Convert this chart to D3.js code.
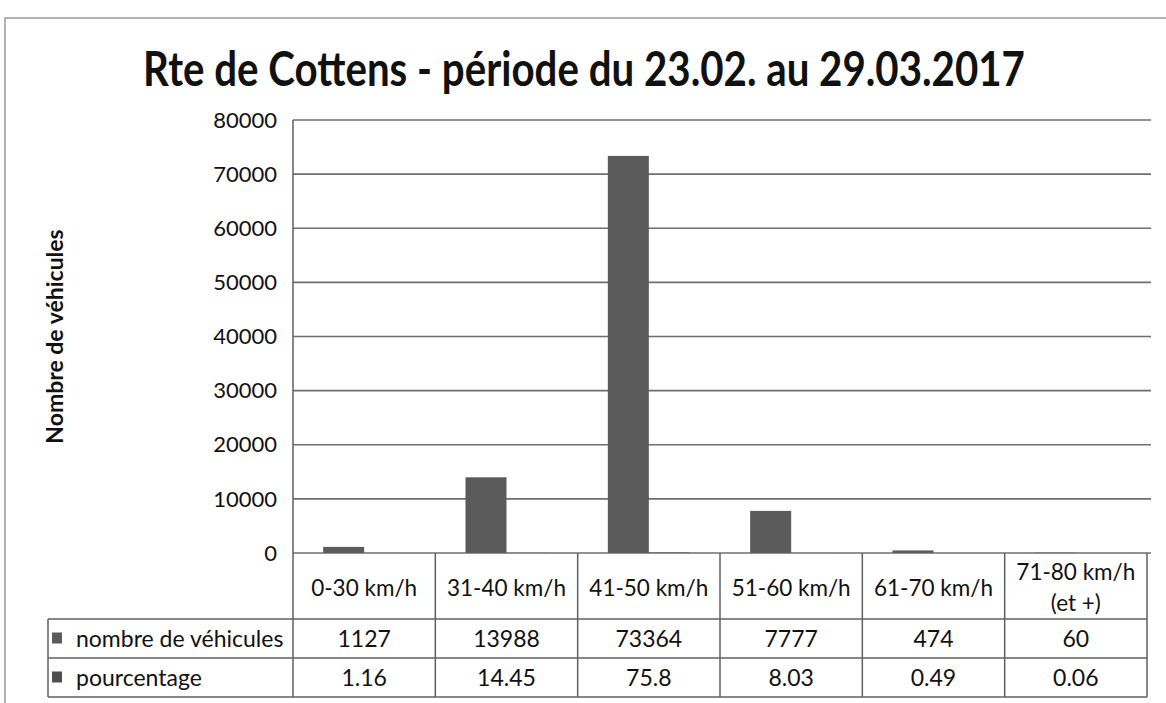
<!DOCTYPE html>
<html>
<head>
<meta charset="utf-8">
<script src="https://cdn.jsdelivr.net/npm/d3@7"></script>
<style>
  body { margin: 0; background: #fff; }
  text { font-family: Lato, "Open Sans", sans-serif; fill: #111; }
</style>
</head>
<body>
<script>
// données
const categories = ["0-30 km/h", "31-40 km/h", "41-50 km/h", "51-60 km/h", "61-70 km/h", "71-80 km/h\n(et +)"];
const vehicules = [1127, 13988, 73364, 7777, 474, 60];
const pourcentage = [1.16, 14.45, 75.8, 8.03, 0.49, 0.06];
const pctLabels = ["1.16", "14.45", "75.8", "8.03", "0.49", "0.06"];
const seriesNames = ["nombre de véhicules", "pourcentage"];
const yTicks = [0, 10000, 20000, 30000, 40000, 50000, 60000, 70000, 80000];
const title = "Rte de Cottens - période du 23.02. au 29.03.2017";
const yTitle = "Nombre de véhicules";

const width = 1166, height = 703;
const margin = {top: 120, right: 19, bottom: 150, left: 293};
const rows = {top: 619, mid: 658, bottom: 697, tableLeft: 48};

const svg = d3.select("body").append("svg")
    .attr("width", width)
    .attr("height", height);

svg.append("rect").attr("width", width).attr("height", height).attr("fill", "#fff");

// cadre extérieur
svg.append("path")
    .attr("d", `M5,${height} V18 H${width}`)
    .attr("fill", "none")
    .attr("stroke", "#9a9a9a")
    .attr("stroke-width", 1.5);

// titre : police étroite simulée par une mise à l'échelle horizontale
const titleText = svg.append("text")
    .attr("text-anchor", "middle")
    .attr("font-size", 47)
    .attr("font-weight", "bold")
    .text(title);
const tw = titleText.node().getComputedTextLength();
titleText.attr("transform", `translate(${width / 2 + 1},86) scale(${882 / tw},1)`);

const x = d3.scaleBand()
    .domain(d3.range(categories.length))
    .range([margin.left, width - margin.right]);

const xs = d3.scaleBand()
    .domain([0, 1])
    .range([0, x.bandwidth()])
    .paddingOuter(0.735);

const y = d3.scaleLinear()
    .domain([0, 80000])
    .range([553, margin.top]);

// grille
svg.append("g")
  .selectAll("line")
  .data(yTicks)
  .join("line")
    .attr("x1", margin.left)
    .attr("x2", 1151)
    .attr("y1", d => y(d))
    .attr("y2", d => y(d))
    .attr("stroke", "#6e6e6e")
    .attr("stroke-width", 1.6);

svg.append("g")
  .selectAll("text")
  .data(yTicks)
  .join("text")
    .attr("x", 277)
    .attr("y", d => y(d))
    .attr("dy", "0.35em")
    .attr("text-anchor", "end")
    .attr("font-size", 22)
    .text(d => d);

svg.append("text")
    .attr("transform", `translate(63,${(y(0) + y(80000)) / 2}) rotate(-90)`)
    .attr("text-anchor", "middle")
    .attr("font-size", 23)
    .attr("font-weight", "bold")
    .text(yTitle);

// barres
const series = [vehicules, pourcentage];
const colors = ["#5b5b5b", "#4f4f4f"];
series.forEach((vals, s) => {
  svg.append("g")
    .selectAll("rect")
    .data(vals)
    .join("rect")
      .attr("x", (d, i) => x(i) + xs(s))
      .attr("width", xs.bandwidth())
      .attr("y", d => y(d))
      .attr("height", d => y(0) - y(d))
      .attr("fill", colors[s]);
});

// tableau
const line = "#5f5f5f";
const tbl = svg.append("g").attr("stroke", line).attr("stroke-width", 1.5);
tbl.append("line").attr("x1", margin.left).attr("x2", margin.left).attr("y1", margin.top).attr("y2", rows.bottom);
x.domain().forEach(i => {
  tbl.append("line")
      .attr("x1", x(i) + x.bandwidth()).attr("x2", x(i) + x.bandwidth())
      .attr("y1", y(0)).attr("y2", rows.bottom);
});
[rows.top, rows.mid, rows.bottom].forEach(yy => {
  tbl.append("line").attr("x1", rows.tableLeft).attr("x2", width - margin.right).attr("y1", yy).attr("y2", yy);
});
tbl.append("line").attr("x1", rows.tableLeft).attr("x2", rows.tableLeft).attr("y1", rows.top).attr("y2", rows.bottom);

// en-têtes de catégories
svg.append("g")
  .selectAll("text")
  .data(categories)
  .join("text")
    .attr("text-anchor", "middle")
    .attr("font-size", 22.5)
    .attr("x", (d, i) => x(i) + x.bandwidth() / 2)
    .each(function(d) {
      const parts = d.split("\n");
      const cy = (y(0) + rows.top) / 2 + 2;
      const t = d3.select(this);
      parts.forEach((p, k) => {
        t.append("tspan")
          .attr("x", t.attr("x"))
          .attr("y", cy + (k - (parts.length - 1) / 2) * 31)
          .attr("dy", "0.35em")
          .text(p);
      });
    });

// lignes de données
const rowVals = [vehicules.map(String), pctLabels];
const rowY = [(rows.top + rows.mid) / 2, (rows.mid + rows.bottom) / 2];
rowVals.forEach((vals, r) => {
  svg.append("rect")
      .attr("x", 52).attr("y", rowY[r] - 6)
      .attr("width", 10).attr("height", 11)
      .attr("fill", colors[r]);
  svg.append("text")
      .attr("x", 76).attr("y", rowY[r]).attr("dy", "0.35em")
      .attr("font-size", 23)
      .text(seriesNames[r]);
  svg.append("g")
    .selectAll("text")
    .data(vals)
    .join("text")
      .attr("x", (d, i) => x(i) + x.bandwidth() / 2)
      .attr("y", rowY[r])
      .attr("dy", "0.35em")
      .attr("text-anchor", "middle")
      .attr("font-size", 23)
      .text(d => d);
});
</script>
</body>
</html>
